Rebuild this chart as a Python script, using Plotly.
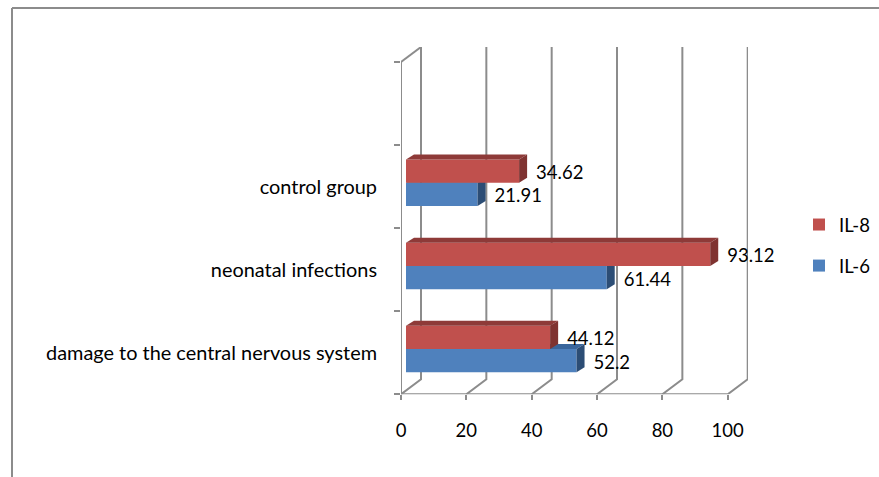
import plotly.graph_objects as go

# ---- data ----
categories = ["damage to the central nervous system", "neonatal infections", "control group"]
il6_values = [52.2, 61.44, 21.91]
il8_values = [44.12, 93.12, 34.62]
x_ticks = [0, 20, 40, 60, 80, 100]
series_names = ["IL-6", "IL-8"]

# ---- style / geometry ----
W, H = 879, 477
PX_L, PX_R, PX_T, PX_B = 401, 748, 47, 394.3
PX_PER_X = 3.267
PX_PER_Y = 83.08
X_MAX = (PX_R - PX_L) / PX_PER_X
Y_MAX = (PX_B - PX_T) / PX_PER_Y
WALL_DX, WALL_DY = 20 / PX_PER_X, 15 / PX_PER_Y
BAR_BASE = 5 / PX_PER_X
BAR_DX, BAR_DY = 8 / PX_PER_X, 5 / PX_PER_Y
BAR_W = 0.28
GRID = "#8C8C8C"
FONT = "Lato"
FS = 18.5
y_slots = [0, 1, 2, 3, 4]
y_centers = [i + 0.5 for i in range(len(categories))]


def depth_traces(values, lows, face, side, xa, ya):
    out = []
    for v, lo in zip(values, lows):
        end = BAR_BASE + v
        hi = lo + BAR_W
        out.append(go.Scatter(
            x=[BAR_BASE, end, end + BAR_DX, BAR_BASE + BAR_DX, BAR_BASE],
            y=[hi, hi, hi + BAR_DY, hi + BAR_DY, hi],
            fill="toself", fillcolor=face, mode="none", showlegend=False,
            hoverinfo="skip", xaxis=xa, yaxis=ya))
        out.append(go.Scatter(
            x=[end, end + BAR_DX, end + BAR_DX, end, end],
            y=[lo, lo + BAR_DY, hi + BAR_DY, hi, lo],
            fill="toself", fillcolor=side, mode="none", showlegend=False,
            hoverinfo="skip", xaxis=xa, yaxis=ya))
    return out


def bar_trace(name, values, off, color, rank, xa, ya):
    return go.Bar(
        name=name, orientation="h", x=values, y=y_centers,
        base=BAR_BASE, offset=off, width=BAR_W,
        marker=dict(color=color, line=dict(width=0)),
        legendgroup=name, legendrank=rank, xaxis=xa, yaxis=ya)


def label_trace(values, off, xa, ya):
    return go.Scatter(
        x=[BAR_BASE + v + 17 / PX_PER_X for v in values],
        y=[c + off + BAR_W / 2 - 0.04 for c in y_centers],
        text=[str(v) for v in values], mode="text", textposition="middle right",
        textfont=dict(family=FONT, size=FS, color="#000000"),
        cliponaxis=False, showlegend=False, hoverinfo="skip", xaxis=xa, yaxis=ya)


OFF6, OFF8 = -0.235, 0.045
fig = go.Figure()
fig.add_trace(bar_trace(series_names[0], il6_values, OFF6, "#4F81BD", 2, "x", "y"))
for t in depth_traces(il6_values, [c + OFF6 for c in y_centers], "#3A669C", "#2C4D75", "x", "y"):
    fig.add_trace(t)
fig.add_trace(bar_trace(series_names[1], il8_values, OFF8, "#C0504D", 1, "x2", "y2"))
for t in depth_traces(il8_values, [c + OFF8 for c in y_centers], "#8E3A38", "#7F3331", "x2", "y2"):
    fig.add_trace(t)
fig.add_trace(label_trace(il6_values, OFF6, "x2", "y2"))
fig.add_trace(label_trace(il8_values, OFF8, "x2", "y2"))

line = dict(color=GRID, width=2)
shapes = []
for tx in x_ticks:
    shapes.append(dict(
        type="path", xref="x", yref="y", layer="below", line=line,
        path=f"M{tx},0 L{tx + WALL_DX},{WALL_DY} L{tx + WALL_DX},{y_slots[-1] + WALL_DY}"))
shapes.append(dict(type="line", xref="x", yref="y", layer="below", line=line,
                   x0=x_ticks[0], x1=x_ticks[-1], y0=0, y1=0))
shapes.append(dict(type="line", xref="x", yref="y", layer="below", line=line,
                   x0=0, x1=0, y0=0, y1=y_slots[-1]))
shapes.append(dict(type="line", xref="x", yref="y", layer="below", line=line,
                   x0=0, x1=WALL_DX, y0=y_slots[-1], y1=y_slots[-1] + WALL_DY))
# outer chart frame (left and top edges only, as cropped in the picture)
frame = dict(color=GRID, width=2)
shapes.append(dict(type="line", xref="paper", yref="paper", line=frame,
                   x0=12 / W, x1=12 / W, y0=0, y1=1 - 8 / H))
shapes.append(dict(type="line", xref="paper", yref="paper", line=frame,
                   x0=12 / W, x1=1, y0=1 - 8 / H, y1=1 - 8 / H))

dom_x = [PX_L / W, PX_R / W]
dom_y = [1 - PX_B / H, 1 - PX_T / H]
fig.update_layout(
    width=W, height=H, autosize=False,
    margin=dict(l=0, r=0, t=0, b=0, pad=0),
    paper_bgcolor="white", plot_bgcolor="rgba(0,0,0,0)",
    barmode="overlay", showlegend=True, shapes=shapes,
    font=dict(family=FONT, size=FS, color="#000000"),
    hovermode=False,
    xaxis=dict(domain=dom_x, range=[0, X_MAX], tickmode="array", tickvals=x_ticks,
               ticks="outside", ticklen=5, tickwidth=2, tickcolor=GRID,
               showgrid=False, zeroline=False, showline=False,
               tickfont=dict(family=FONT, size=FS, color="#000000"),
               ticklabelstandoff=14, automargin=False),
    yaxis=dict(domain=dom_y, range=[0, Y_MAX], tickmode="array", tickvals=y_centers,
               ticktext=categories, ticks="", showgrid=False, zeroline=False, showline=False,
               minor=dict(tickmode="array", tickvals=y_slots, ticks="outside",
                          ticklen=6, tickwidth=2, tickcolor=GRID, showgrid=False),
               tickfont=dict(family=FONT, size=19.9, color="#000000"),
               ticklabelstandoff=23, automargin=False),
    xaxis2=dict(domain=dom_x, range=[0, X_MAX], overlaying="x", visible=False),
    yaxis2=dict(domain=dom_y, range=[0, Y_MAX], overlaying="y", visible=False),
    legend=dict(x=799 / W, y=1 - 206 / H, xanchor="left", yanchor="top",
                bgcolor="rgba(0,0,0,0)", borderwidth=0, tracegroupgap=14,
                font=dict(family=FONT, size=FS, color="#000000"),
                itemclick=False, itemdoubleclick=False),
)
fig.write_html("out.html", config=dict(displayModeBar=False),
               post_script="document.body.style.margin='0';document.body.style.overflow='hidden';")
